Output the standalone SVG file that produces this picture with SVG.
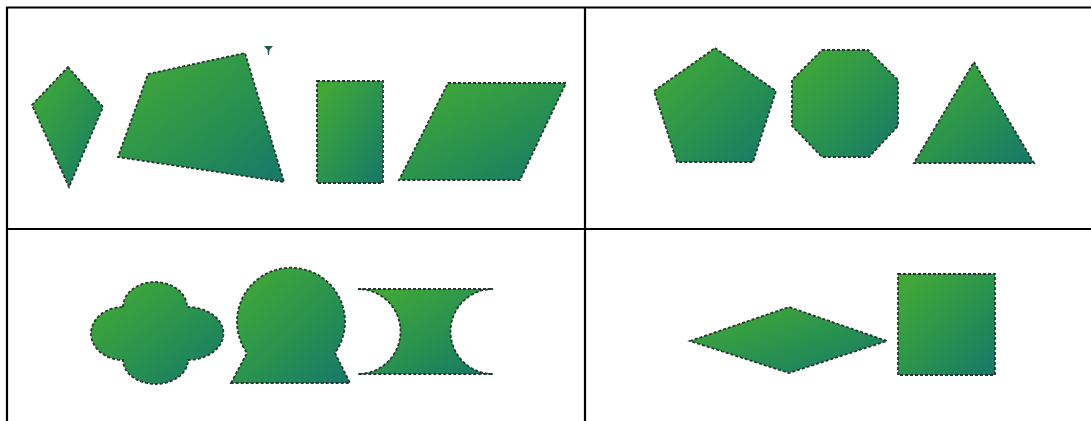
<svg xmlns="http://www.w3.org/2000/svg" width="1091" height="421" viewBox="0 0 1091 421">
<style>
.grid{stroke:#000;stroke-width:2.2;fill:none}
.shp{fill:url(#g);stroke:#26352f;stroke-width:1.8;stroke-dasharray:3 2;stroke-linejoin:miter}
</style>
<defs>
<linearGradient id="g" x1="0" y1="0" x2="1" y2="1">
<stop offset="0.1" stop-color="#41a739"/>
<stop offset="0.55" stop-color="#29924f"/>
<stop offset="1" stop-color="#16776b"/>
</linearGradient>
</defs>
<rect width="1091" height="421" fill="#fff"/>
<g id="table">
<path class="grid" d="M6,7.5 H1091 M7,6.5 V421 M585,7 V421 M7,229 H1091"/>
</g>
<g id="kite"><polygon class="shp" points="68,67 103,107 69,187 32,105"/></g>
<g id="quad"><polygon class="shp" points="148,74 245,53 284,182 118,157"/></g>
<g id="mark"><polygon points="264,46 273,46 269.5,50 269,55 268,55 267.5,50" fill="#1d5a50"/></g>
<g id="rect"><rect class="shp" x="317" y="81" width="66" height="102"/></g>
<g id="parallelogram"><polygon class="shp" points="448,83 566,83 520,180 399,180"/></g>
<g id="pentagon"><polygon class="shp" points="715,48 776,91 753,162 677,162 654,91"/></g>
<g id="octagon"><polygon class="shp" points="822,50 868,50 898,80 898,126 869,157 822,157 792,126 792,80"/></g>
<g id="triangle"><polygon class="shp" points="974,62 1034,163 914,163"/></g>
<g id="cloud"><path class="shp" d="M123,307 A32,25 0 0 1 187,307 A36,26.5 0 0 1 188,360 A32.5,24 0 0 1 123,360 A32,26.5 0 0 1 123,307 Z"/></g>
<g id="keyhole"><path class="shp" d="M231,383 L247,353 A54,54 0 1 1 335,353 L350,383 Z"/></g>
<g id="hourglass"><path class="shp" d="M358,289 L493,289 A42.5,42.5 0 0 0 493,374 L358,374 A42.5,42.5 0 0 0 358,289 Z"/></g>
<g id="rhombus"><polygon class="shp" points="690,341 789,307 887,341 789,373"/></g>
<g id="square"><rect class="shp" x="898" y="274" width="97" height="101"/></g>
</svg>
